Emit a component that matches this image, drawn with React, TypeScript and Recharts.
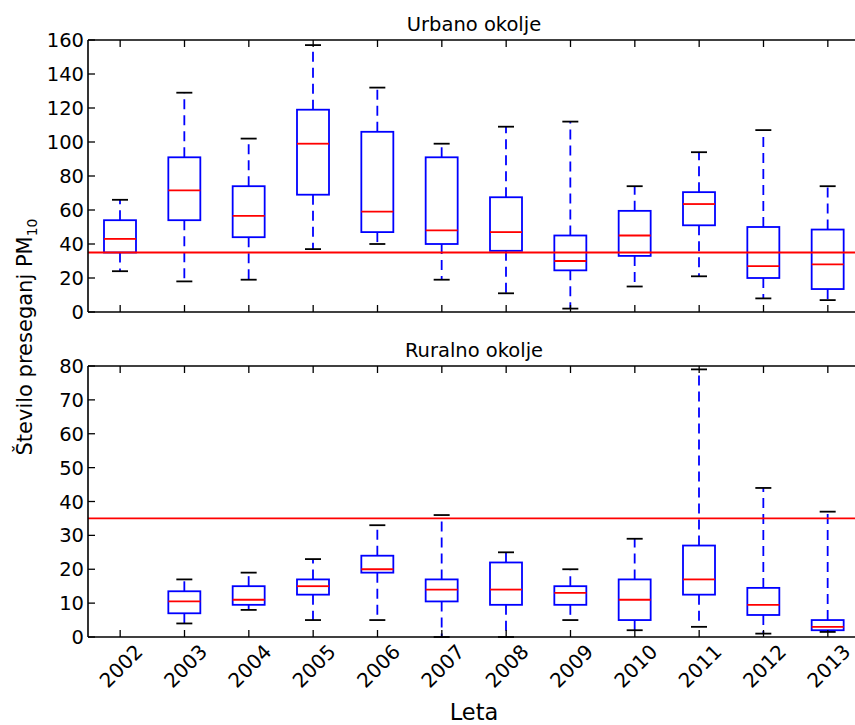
import { ComposedChart, Bar, XAxis, YAxis, ReferenceLine } from 'recharts'

const years = ['2002', '2003', '2004', '2005', '2006', '2007', '2008', '2009', '2010', '2011', '2012', '2013']

// Urbano okolje
const urbanLower = [24, 18, 19, 37, 40, 19, 11, 2, 15, 21, 8, 7]
const urbanQ1 = [35, 54, 44, 69, 47, 40, 36, 24.5, 33, 51, 20, 13.5]
const urbanMedian = [43, 71.5, 56.5, 99, 59, 48, 47, 30, 45, 63.5, 27, 28]
const urbanQ3 = [54, 91, 74, 119, 106, 91, 67.5, 45, 59.5, 70.5, 50, 48.5]
const urbanUpper = [66, 129, 102, 157, 132, 99, 109, 112, 74, 94, 107, 74]

// Ruralno okolje (2002 has no data)
const ruralLower = [null, 4, 8, 5, 5, 0, 0, 5, 2, 3, 1, 1.5]
const ruralQ1 = [null, 7, 9.5, 12.5, 19, 10.5, 9.5, 9.5, 5, 12.5, 6.5, 2]
const ruralMedian = [null, 10.5, 11, 15, 20, 14, 14, 13, 11, 17, 9.5, 3]
const ruralQ3 = [null, 13.5, 15, 17, 24, 17, 22, 15, 17, 27, 14.5, 5]
const ruralUpper = [null, 17, 19, 23, 33, 36, 25, 20, 29, 79, 44, 37]

const urbanTicks = [0, 20, 40, 60, 80, 100, 120, 140, 160]
const ruralTicks = [0, 10, 20, 30, 40, 50, 60, 70, 80]
const LIMIT = 35

const FONT = 'DejaVu Sans, sans-serif'
const BLUE = '#0000ff'
const RED = '#ff0000'
const TICK_LEN = 7
const PLOT_LEFT = 88
const PLOT_RIGHT = 860
const CHART_W = 880
const LW = 1.8

type Row = {
  year: string
  range?: [number, number]
  lower?: number
  q1?: number
  median?: number
  q3?: number
  upper?: number
}

function buildRows(lower: (number | null)[], q1: (number | null)[], median: (number | null)[], q3: (number | null)[], upper: (number | null)[]): Row[] {
  return years.map((year, i) => {
    if (lower[i] == null) return { year }
    return {
      year,
      range: [lower[i] as number, upper[i] as number],
      lower: lower[i] as number,
      q1: q1[i] as number,
      median: median[i] as number,
      q3: q3[i] as number,
      upper: upper[i] as number,
    }
  })
}

const urbanRows = buildRows(urbanLower, urbanQ1, urbanMedian, urbanQ3, urbanUpper)
const ruralRows = buildRows(ruralLower, ruralQ1, ruralMedian, ruralQ3, ruralUpper)

const BoxShape = (props: any) => {
  const { x, y, width, height, payload } = props
  if (!payload || payload.range == null) return <g />
  const top = Math.min(y, y + height)
  const bottom = Math.max(y, y + height)
  const span = payload.upper - payload.lower
  // map a value onto the bar's pixel range (bar spans lower..upper)
  const py = (v: number) => (span === 0 ? top : top + ((payload.upper - v) / span) * (bottom - top))
  const cx = x + width / 2
  const cap = width / 4
  const yQ1 = py(payload.q1)
  const yQ3 = py(payload.q3)
  const yMed = py(payload.median)
  return (
    <g>
      <line x1={cx} x2={cx} y1={yQ3} y2={top} stroke={BLUE} strokeWidth={LW} strokeDasharray="10 6" />
      <line x1={cx} x2={cx} y1={yQ1} y2={bottom} stroke={BLUE} strokeWidth={LW} strokeDasharray="10 6" />
      <line x1={cx - cap} x2={cx + cap} y1={top} y2={top} stroke="#000" strokeWidth={LW} />
      <line x1={cx - cap} x2={cx + cap} y1={bottom} y2={bottom} stroke="#000" strokeWidth={LW} />
      <rect x={x} y={yQ3} width={width} height={yQ1 - yQ3} fill="none" stroke={BLUE} strokeWidth={LW} />
      <line x1={x} x2={x + width} y1={yMed} y2={yMed} stroke={RED} strokeWidth={LW} />
    </g>
  )
}

const axisStyle = { stroke: '#000', strokeWidth: 1.6 }

interface PanelProps {
  rows: Row[]
  yMax: number
  yTicks: number[]
  top: number
  bottom: number
  height: number
  labels: boolean
}

const Panel = ({ rows, yMax, yTicks, top, bottom, height, labels }: PanelProps) => {
  const margin = {
    top: top - 10,
    bottom: height - bottom - 10,
    left: PLOT_LEFT - 50,
    right: CHART_W - PLOT_RIGHT - 10,
  }
  return (
    <ComposedChart width={CHART_W} height={height} data={rows} margin={margin}>
      <XAxis
        xAxisId="b"
        dataKey="year"
        orientation="bottom"
        height={10}
        interval={0}
        axisLine={axisStyle}
        tickLine={false}
        tickSize={0}
        tick={(p: any) => (
          <g>
            <line x1={p.x} x2={p.x} y1={bottom} y2={bottom - TICK_LEN} stroke="#000" strokeWidth={1.3} />
            {labels && (
              <text
                transform={`translate(${p.x + 1},${bottom + 29}) rotate(-45)`}
                textAnchor="middle"
                dy={7}
                fontFamily={FONT}
                fontSize={20}
                fill="#000"
              >
                {p.payload.value}
              </text>
            )}
          </g>
        )}
      />
      <XAxis
        xAxisId="t"
        dataKey="year"
        orientation="top"
        height={10}
        interval={0}
        axisLine={axisStyle}
        tickLine={false}
        tickSize={0}
        tick={(p: any) => (
          <line x1={p.x} x2={p.x} y1={top} y2={top + TICK_LEN} stroke="#000" strokeWidth={1.3} />
        )}
      />
      <YAxis
        yAxisId="l"
        type="number"
        domain={[0, yMax]}
        ticks={yTicks}
        interval={0}
        width={50}
        axisLine={axisStyle}
        tickLine={false}
        tickSize={0}
        tick={(p: any) => (
          <g>
            <line x1={PLOT_LEFT} x2={PLOT_LEFT + TICK_LEN} y1={p.y} y2={p.y} stroke="#000" strokeWidth={1.3} />
            <text x={PLOT_LEFT - 4} y={p.y} dy={7} textAnchor="end" fontFamily={FONT} fontSize={19.5} fill="#000">
              {p.payload.value}
            </text>
          </g>
        )}
      />
      <YAxis
        yAxisId="r"
        orientation="right"
        type="number"
        domain={[0, yMax]}
        ticks={yTicks}
        interval={0}
        width={10}
        axisLine={axisStyle}
        tickLine={false}
        tickSize={0}
        tick={(p: any) => (
          <line x1={PLOT_RIGHT} x2={PLOT_RIGHT - TICK_LEN} y1={p.y} y2={p.y} stroke="#000" strokeWidth={1.3} />
        )}
      />
      <Bar xAxisId="b" yAxisId="l" dataKey="range" barSize={32} shape={BoxShape} isAnimationActive={false} />
      <ReferenceLine xAxisId="b" yAxisId="l" y={LIMIT} stroke={RED} strokeWidth={1.8} />
    </ComposedChart>
  )
}

export default function App() {
  return (
    <div style={{ position: 'absolute', left: 0, top: 0, width: 855, height: 725, overflow: 'hidden', background: '#fff' }}>
      <div style={{ position: 'absolute', left: 0, top: 0 }}>
        <Panel rows={urbanRows} yMax={160} yTicks={urbanTicks} top={40} bottom={312} height={330} labels={false} />
      </div>
      <div style={{ position: 'absolute', left: 0, top: 330 }}>
        <Panel rows={ruralRows} yMax={80} yTicks={ruralTicks} top={36} bottom={307} height={395} labels={true} />
      </div>
      <svg width={855} height={725} style={{ position: 'absolute', left: 0, top: 0, pointerEvents: 'none' }}>
        <text x={474} y={31} textAnchor="middle" fontFamily={FONT} fontSize={19.5} fill="#000">Urbano okolje</text>
        <text x={474} y={357} textAnchor="middle" fontFamily={FONT} fontSize={19.5} fill="#000">Ruralno okolje</text>
        <text x={474} y={720} textAnchor="middle" fontFamily={FONT} fontSize={22.5} fill="#000">Leta</text>
        <text transform="translate(32,337) rotate(-90)" textAnchor="middle" fontFamily={FONT} fontSize={21} fill="#000">
          Število preseganj PM<tspan fontSize={14} dy={5}>10</tspan>
        </text>
      </svg>
    </div>
  )
}
